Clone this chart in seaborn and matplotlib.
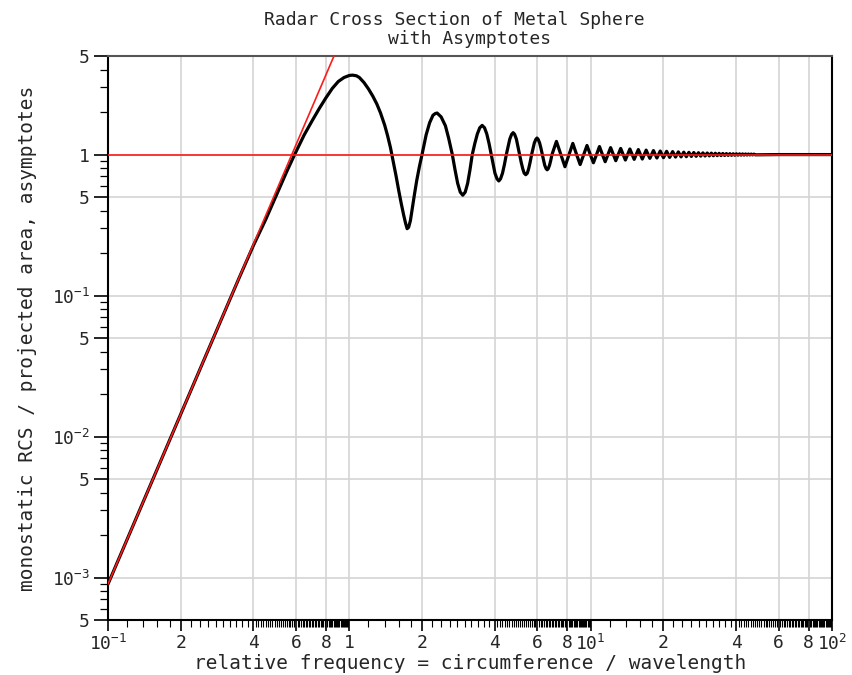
import matplotlib
matplotlib.use("Agg")
import numpy as np
import seaborn as sns
import matplotlib.pyplot as plt
from matplotlib.ticker import FixedLocator, FixedFormatter

# values (x = circumference / wavelength, y = RCS / projected area)
curve_x = [0.1, 0.15, 0.2, 0.25, 0.3, 0.35, 0.4, 0.45, 0.5, 0.55, 0.593, 0.65, 0.7, 0.75,
           0.8, 0.85, 0.9, 0.95, 1.0, 1.03, 1.07, 1.1, 1.15, 1.2, 1.25, 1.3, 1.345, 1.4,
           1.44, 1.48, 1.52, 1.56, 1.6, 1.64, 1.68, 1.71, 1.735, 1.76, 1.79, 1.82, 1.86,
           1.9, 1.95, 2.0, 2.08, 2.15, 2.22, 2.27, 2.31,
           2.4, 2.5, 2.58, 2.67, 2.74, 2.81, 2.88, 2.95, 3.02, 3.09, 3.16, 3.23,
           3.31, 3.39, 3.47, 3.55, 3.63, 3.71, 3.79, 3.87,
           3.94, 4.01, 4.09, 4.16, 4.23, 4.31, 4.39, 4.47,
           4.55, 4.62, 4.70, 4.77, 4.84, 4.92, 4.99, 5.07,
           5.15, 5.23, 5.30, 5.38, 5.46, 5.53, 5.61, 5.69,
           5.77, 5.84, 5.92, 5.99, 6.06, 6.14, 6.22, 6.30,
           6.38, 6.45, 6.53, 6.60, 6.67, 6.75, 6.83, 6.91,
           7.21, 7.52, 7.82, 8.13, 8.43, 8.74, 9.04, 9.35, 9.65, 9.96, 10.26, 10.57,
           10.87, 11.18, 11.48]
curve_y = [0.0009, 0.00456, 0.0144, 0.0351, 0.0726, 0.1345, 0.226, 0.346, 0.523, 0.757, 1.0,
           1.38, 1.73, 2.12, 2.53, 2.95, 3.3, 3.52, 3.64, 3.66, 3.62, 3.52, 3.24, 2.92, 2.60,
           2.28, 1.98, 1.62, 1.36, 1.12, 0.89, 0.71, 0.56, 0.45, 0.37, 0.325, 0.298, 0.305,
           0.34, 0.41, 0.52, 0.65, 0.82, 1.0, 1.38, 1.68, 1.9, 1.955, 1.97,
           1.85, 1.6, 1.3, 1.0, 0.78, 0.625, 0.542, 0.515, 0.542, 0.625, 0.78, 1.0,
           1.2, 1.40, 1.55, 1.61, 1.55, 1.40, 1.2, 1.0,
           0.85, 0.738, 0.673, 0.65, 0.673, 0.738, 0.85, 1.0,
           1.146, 1.288, 1.39, 1.43, 1.39, 1.288, 1.146, 1.0,
           0.883, 0.792, 0.738, 0.72, 0.738, 0.792, 0.883, 1.0,
           1.109, 1.21, 1.28, 1.31, 1.28, 1.21, 1.109, 1.0,
           0.91, 0.839, 0.796, 0.78, 0.796, 0.839, 0.91, 1.0,
           1.24, 1.0, 0.82, 1.0, 1.20, 1.0, 0.85, 1.0, 1.16, 1.0, 0.875, 1.0,
           1.14, 1.0, 0.89]

# dense ripple region: peaks and troughs
peak_x = [12.09, 13.31, 14.53, 15.75, 16.97, 18.19, 19.41, 20.63, 21.85, 23.07, 24.29,
          25.51, 26.73, 27.95, 29.17, 30.39, 31.61, 32.83, 34.05, 35.27, 36.49, 37.71,
          38.93, 40.15, 41.37, 42.59, 43.81, 45.03, 46.25, 47.47]
peak_y = [1.12, 1.105, 1.095, 1.085, 1.075, 1.068, 1.06, 1.055, 1.05, 1.045, 1.04,
          1.037, 1.034, 1.031, 1.028, 1.026, 1.024, 1.022, 1.02, 1.018, 1.016, 1.015,
          1.014, 1.013, 1.012, 1.011, 1.01, 1.009, 1.008, 1.007]
trough_x = [12.70, 13.92, 15.14, 16.36, 17.58, 18.80, 20.02, 21.24, 22.46, 23.68, 24.90,
            26.12, 27.34, 28.56, 29.78, 31.00, 32.22, 33.44, 34.66, 35.88, 37.10, 38.32,
            39.54, 40.76, 41.98, 43.20, 44.42, 45.64, 46.86, 48.08]
trough_y = [0.905, 0.915, 0.925, 0.93, 0.94, 0.945, 0.95, 0.955, 0.96, 0.963, 0.966,
            0.97, 0.972, 0.975, 0.977, 0.979, 0.981, 0.983, 0.984, 0.986, 0.987, 0.988,
            0.989, 0.99, 0.991, 0.992, 0.993, 0.994, 0.995, 0.996]
tail_x = [60.0, 100.0]
tail_y = [1.0, 1.0]

# asymptotes
optical_x = [0.1, 100.0]
optical_y = [1.0, 1.0]
rayleigh_x = [0.1, 1.0]
rayleigh_y = [0.0009, 9.0]

x_major = [0.1, 0.2, 0.4, 0.6, 0.8, 1, 2, 4, 6, 8, 10, 20, 40, 60, 80, 100]
x_labels = ["$10^{-1}$", "2", "4", "6", "8", "1", "2", "4", "6", "8", "$10^{1}$",
            "2", "4", "6", "8", "$10^{2}$"]
y_major = [5e-4, 1e-3, 5e-3, 1e-2, 5e-2, 1e-1, 0.5, 1, 5]
y_labels = ["5", "$10^{-3}$", "5", "$10^{-2}$", "5", "$10^{-1}$", "5", "1", "5"]

full_x = list(curve_x)
full_y = list(curve_y)
for px, py, tx, ty in zip(peak_x, peak_y, trough_x, trough_y):
    full_x += [px, tx]
    full_y += [py, ty]
full_x += tail_x
full_y += tail_y

sns.set_style("white")
plt.rcParams["font.family"] = ["DejaVu Sans Mono"]
plt.rcParams["mathtext.fontset"] = "custom"
plt.rcParams["mathtext.rm"] = "DejaVu Sans Mono"
plt.rcParams["mathtext.default"] = "rm"

fig = plt.figure(figsize=(8.52, 6.75), dpi=100)
ax = fig.add_axes([0.1268, 0.0815, 0.8498, 0.8355])

sns.lineplot(x=full_x, y=full_y, ax=ax, color="black", linewidth=2.3, sort=False,
             estimator=None, zorder=3)
sns.lineplot(x=optical_x, y=optical_y, ax=ax, color="#ff1a1a", linewidth=1.2,
             estimator=None, zorder=4)
sns.lineplot(x=rayleigh_x, y=rayleigh_y, ax=ax, color="#ff1a1a", linewidth=1.2,
             estimator=None, zorder=4)

ax.set_xscale("log")
ax.set_yscale("log")
ax.set_xlim(0.1, 100)
ax.set_ylim(5e-4, 5)

# minor ticks
x_minor = []
for dec in [0.1, 1, 10]:
    x_minor += [dec * v for v in np.arange(1.2, 4.0, 0.2)]
    x_minor += [dec * v for v in np.arange(4.1, 10.0, 0.1)]
y_minor = []
for dec in [1e-4, 1e-3, 1e-2, 1e-1, 1]:
    y_minor += [dec * v for v in [2, 3, 4, 6, 7, 8, 9]]
y_minor = [v for v in y_minor if 5e-4 < v < 5]

ax.xaxis.set_major_locator(FixedLocator(x_major))
ax.xaxis.set_major_formatter(FixedFormatter(x_labels))
ax.xaxis.set_minor_locator(FixedLocator(x_minor))
ax.xaxis.set_minor_formatter(FixedFormatter([]))
ax.yaxis.set_major_locator(FixedLocator(y_major))
ax.yaxis.set_major_formatter(FixedFormatter(y_labels))
ax.yaxis.set_minor_locator(FixedLocator(y_minor))
ax.yaxis.set_minor_formatter(FixedFormatter([]))

ax.tick_params(axis="both", which="both", bottom=True, left=True, top=False, right=False)
ax.tick_params(axis="y", which="major", direction="out", length=10, width=1.2,
               color="black", labelsize=13, pad=3)
ax.tick_params(axis="y", which="minor", direction="out", length=6, width=0.9,
               color="black")
ax.tick_params(axis="x", which="major", direction="out", length=8, width=1.2,
               color="black", labelsize=13, pad=2)
ax.tick_params(axis="x", which="minor", direction="out", length=5, width=0.8,
               color="black")

ax.grid(True, which="major", color="#d4d4d4", linewidth=1.2, zorder=0)
ax.set_axisbelow(True)

for side in ["left", "bottom", "right"]:
    ax.spines[side].set_color("black")
    ax.spines[side].set_linewidth(1.5)
ax.spines["top"].set_color("#555555")
ax.spines["top"].set_linewidth(1.5)

ax.set_xlabel("relative frequency = circumference / wavelength", fontsize=14, labelpad=0)
ax.set_ylabel("monostatic RCS / projected area, asymptotes", fontsize=14, labelpad=11)

fig.text(454 / 852, 1 - 20 / 675, "Radar Cross Section of Metal Sphere", ha="center",
         va="center", fontsize=13)
fig.text(470 / 852, 1 - 39 / 675, "with Asymptotes", ha="center", va="center", fontsize=13)

fig.savefig("out.png", dpi=100)
